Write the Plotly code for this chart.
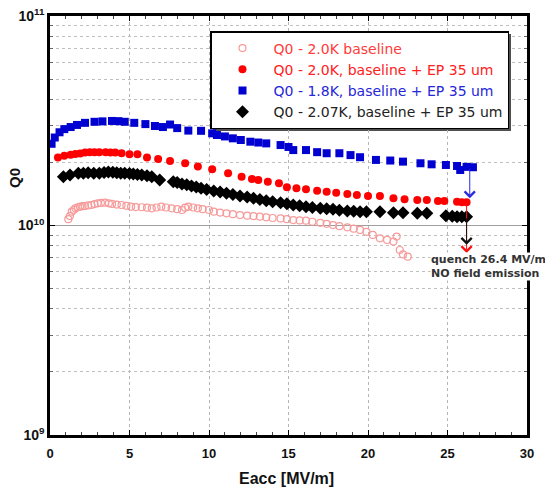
import math
import plotly.graph_objects as go

SCALE = 1e10

# Q0 - 2.0K baseline (open pink circles)
eacc_base_20 = [1.15, 1.25, 1.37, 1.5, 1.6, 1.75, 1.9, 2.05, 2.2, 2.4,
                2.6, 2.8, 3.0, 3.2, 3.46, 3.7, 3.9, 4.2, 4.5, 4.8,
                5.1, 5.4, 5.77, 6.1, 6.4, 6.7, 7.0, 7.3, 7.65, 8.0,
                8.3, 8.5, 8.7, 9.0, 9.3, 9.6, 10.0, 10.3, 10.7, 11.1,
                11.5, 11.95, 12.4, 12.8, 13.2, 13.6, 14.0, 14.5, 14.9, 15.3,
                15.7, 16.1, 16.5, 17.0, 17.4, 17.8, 18.2, 18.7, 19.1, 19.5,
                19.9, 20.3, 20.75, 21.2, 21.6, 21.8, 22.0, 22.2, 22.5]
q0_base_20 = [1.072, 1.109, 1.164, 1.189, 1.208, 1.222, 1.230, 1.236, 1.239, 1.247,
              1.253, 1.265, 1.276, 1.282, 1.285, 1.276, 1.268, 1.259, 1.253, 1.242,
              1.230, 1.225, 1.222, 1.216, 1.208, 1.219, 1.230, 1.219, 1.208, 1.197,
              1.186, 1.216, 1.230, 1.219, 1.208, 1.197, 1.186, 1.164, 1.153, 1.143,
              1.132, 1.122, 1.114, 1.109, 1.102, 1.094, 1.086, 1.081, 1.072, 1.062,
              1.057, 1.054, 1.042, 1.030, 1.019, 1.005, 0.993, 0.980, 0.966, 0.953,
              0.933, 0.902, 0.869, 0.853, 0.838, 0.885, 0.764, 0.728, 0.710]

# Q0 - 2.0K, baseline + EP 35 um (red dots)
eacc_ep_20 = [0.5, 0.9, 1.3, 1.6, 1.9, 2.2, 2.5, 2.8, 3.1, 3.5,
              3.8, 4.1, 4.5, 5.0, 5.5, 6.1, 6.8, 7.55, 8.5, 9.3,
              10.2, 11.2, 12.05, 12.7, 13.1, 13.7, 14.4, 14.9, 15.5, 16.1,
              16.8, 17.4, 18.0, 18.7, 19.3, 20.0, 20.75, 21.6, 22.3, 23.1,
              23.7, 24.4, 24.8, 25.6, 25.9, 26.2]
q0_ep_20 = [2.109, 2.153, 2.178, 2.193, 2.208, 2.228, 2.234, 2.234, 2.239, 2.234,
            2.228, 2.228, 2.213, 2.188, 2.188, 2.109, 2.075, 2.032, 1.982, 1.910,
            1.854, 1.774, 1.710, 1.667, 1.648, 1.618, 1.589, 1.521, 1.507, 1.489,
            1.466, 1.449, 1.435, 1.413, 1.400, 1.384, 1.384, 1.349, 1.334, 1.324,
            1.324, 1.309, 1.309, 1.300, 1.291, 1.291]

# Q0 - 1.8K, baseline + EP 35 um (blue squares)
eacc_ep_18 = [0.1, 0.3, 0.6, 0.9, 1.3, 1.7, 2.2, 2.8, 3.3, 3.9,
              4.3, 4.7, 5.3, 6.0, 6.6, 7.1, 7.55, 8.0, 8.7, 9.5,
              10.2, 10.5, 11.0, 11.5, 12.0, 12.6, 13.1, 13.6, 14.5, 15.0,
              15.3, 16.1, 16.8, 17.4, 18.2, 18.9, 19.5, 20.5, 21.4, 22.2,
              23.3, 24.0, 24.9, 25.6, 25.8, 26.2, 26.6]
q0_ep_18 = [2.455, 2.630, 2.786, 2.884, 2.951, 3.020, 3.090, 3.126, 3.141, 3.155,
            3.148, 3.126, 3.090, 3.048, 2.985, 2.951, 3.034, 2.917, 2.838, 2.831,
            2.754, 2.704, 2.661, 2.606, 2.559, 2.512, 2.489, 2.466, 2.421, 2.371,
            2.291, 2.291, 2.239, 2.213, 2.213, 2.168, 2.118, 2.056, 2.042, 2.018,
            1.982, 1.959, 1.945, 1.923, 1.841, 1.905, 1.897]

# Q0 - 2.07K, baseline + EP 35 um (black diamonds)
eacc_ep_207 = [0.84, 1.26, 1.78, 2.1, 2.4, 2.75, 3.1, 3.4, 3.67, 3.95,
               4.2, 4.45, 4.7, 5.0, 5.24, 5.5, 5.77, 6.1, 6.4, 6.9,
               7.75, 8.0, 8.3, 8.6, 8.9, 9.2, 9.5, 9.85, 10.3, 10.7,
               11.1, 11.5, 11.95, 12.4, 12.8, 13.2, 13.6, 14.0, 14.5, 14.9,
               15.3, 15.7, 16.1, 16.5, 17.0, 17.4, 17.8, 18.2, 18.7, 19.1,
               19.5, 19.9, 20.75, 21.6, 22.2, 23.1, 23.7, 24.9, 25.3, 25.6,
               25.9, 26.2]
q0_ep_207 = [1.710, 1.742, 1.774, 1.778, 1.786, 1.778, 1.774, 1.791, 1.799, 1.795,
             1.786, 1.778, 1.774, 1.770, 1.762, 1.754, 1.742, 1.726, 1.710, 1.648,
             1.618, 1.603, 1.578, 1.563, 1.545, 1.528, 1.507, 1.486, 1.462, 1.445,
             1.426, 1.406, 1.384, 1.368, 1.349, 1.330, 1.312, 1.300, 1.285, 1.271,
             1.253, 1.242, 1.230, 1.219, 1.208, 1.202, 1.194, 1.183, 1.172, 1.169,
             1.164, 1.164, 1.164, 1.151, 1.151, 1.143, 1.143, 1.112, 1.107, 1.102,
             1.102, 1.102]

# quench arrows: x position and arrow tip Q0 (x1e10) for 1.8K, 2.0K EP, 2.07K
quench_x = [26.4, 26.2, 26.2]
quench_tip = [1.35, 0.74, 0.81]
quench_colors = ["#2a2ae0", "#ff1010", "#111111"]

x_ticks = [0, 5, 10, 15, 20, 25, 30]
y_tickvals = [1e9, 1e10, 1e11]
y_ticktext = ["<b>10<sup>9</sup></b>", "<b>10<sup>10</sup></b>", "<b>10<sup>11</sup></b>"]

FONT = "Liberation Sans, Arial, sans-serif"
WIDE = "DejaVu Sans, sans-serif"

# plot-area geometry in pixels (for paper-coordinate placement of decorations)
W, H = 545, 487
ML, MR, MT, MB = 50, 18, 16, 52
PW, PH = W - ML - MR, H - MT - MB


def px_to_paper(xp, yp):
    return (xp - ML) / PW, (H - MB - yp) / PH


def sc(v):
    return [a * SCALE for a in v]


fig = go.Figure()
fig.add_trace(go.Scatter(
    x=eacc_base_20, y=sc(q0_base_20), mode="markers",
    name="<span style='color:#ff3b3b'>Q0 - 2.0K baseline</span>",
    marker=dict(symbol="circle-open", size=7, color="#f79a9a", line=dict(width=1.2)),
))
fig.add_trace(go.Scatter(
    x=eacc_ep_20, y=sc(q0_ep_20), mode="markers",
    name="<span style='color:#ff2020'>Q0 - 2.0K, baseline + EP 35 um</span>",
    marker=dict(symbol="circle", size=8, color="#ff0000"),
))
fig.add_trace(go.Scatter(
    x=eacc_ep_18, y=sc(q0_ep_18), mode="markers",
    name="<span style='color:#2626d9'>Q0 - 1.8K, baseline + EP 35 um</span>",
    marker=dict(symbol="square", size=8, color="#0000d0"),
))
fig.add_trace(go.Scatter(
    x=eacc_ep_207, y=sc(q0_ep_207), mode="markers",
    name="<span style='color:#222222'>Q0 - 2.07K, baseline + EP 35 um</span>",
    marker=dict(symbol="diamond", size=10, color="#000000"),
))

series_last = [q0_ep_18[-1], q0_ep_20[-1], q0_ep_207[-1]]
annotations = []
for qx, tip, start, col in zip(quench_x, quench_tip, series_last, quench_colors):
    annotations.append(dict(
        x=qx, y=math.log10(tip * SCALE), ax=qx, ay=math.log10(start * SCALE),
        xref="x", yref="y", axref="x", ayref="y", text="",
        showarrow=True, arrowhead=4, arrowsize=2, arrowwidth=1, arrowcolor=col,
    ))

annotations.append(dict(
    x=23.9, y=math.log10(0.745 * SCALE), xref="x", yref="y", xanchor="left", yanchor="top",
    text="<b>quench 26.4 MV/m<br>NO field emission</b>", showarrow=False, align="left",
    font=dict(family=WIDE, size=11, color="#333333"), bgcolor="white", borderpad=0,
))
qx_, qy_ = px_to_paper(14, 178)
annotations.append(dict(
    x=qx_, y=qy_, xref="paper", yref="paper", text="<b>Q0</b>", textangle=-90,
    xanchor="center", yanchor="middle",
    showarrow=False, font=dict(family=FONT, size=15, color="#111111"),
))
tx_, ty_ = px_to_paper(286, 478)
annotations.append(dict(
    x=tx_, y=ty_, xref="paper", yref="paper", text="<b>Eacc [MV/m]</b>",
    xanchor="center", yanchor="middle",
    showarrow=False, font=dict(family=FONT, size=16, color="#111111"),
))

# legend drop shadow (legend box spans about 210..508 x 31..128 px)
sx0, sy0 = px_to_paper(213, 34)
sx1, sy1 = px_to_paper(511, 131)
shapes = [dict(type="rect", xref="paper", yref="paper", x0=sx0, y0=sy1, x1=sx1, y1=sy0,
               fillcolor="#505050", line=dict(width=0), layer="between")]

lx_, ly_ = px_to_paper(210, 31)
fig.update_layout(
    width=W, height=H,
    margin=dict(l=ML, r=MR, t=MT, b=MB),
    paper_bgcolor="white", plot_bgcolor="white",
    font=dict(family=FONT, size=12, color="#111111"),
    showlegend=True,
    legend=dict(
        x=lx_, y=ly_, xanchor="left", yanchor="top",
        bgcolor="white", bordercolor="black", borderwidth=1.5,
        font=dict(family=WIDE, size=14), itemwidth=52,
        tracegroupgap=0,
    ),
    annotations=annotations,
    shapes=shapes,
)
fig.update_xaxes(
    range=[0, 30], tickvals=x_ticks, ticks="inside", ticklen=5, tickcolor="black",
    showline=True, linewidth=2.5, linecolor="black", mirror="ticks", automargin=False,
    showgrid=True, gridcolor="#b5b5b5", griddash="dot", gridwidth=1, zeroline=False,
    tickfont=dict(family=FONT, size=13, weight="bold"), ticklabelstandoff=5,
    minor=dict(dtick=1, ticks="inside", ticklen=3, tickcolor="#444", showgrid=False),
)
fig.update_yaxes(
    type="log", range=[9, 11], tickvals=y_tickvals, ticktext=y_ticktext,
    ticks="inside", ticklen=5, tickcolor="black", automargin=False,
    showline=True, linewidth=2.5, linecolor="black", mirror="ticks",
    showgrid=True, gridcolor="#a0a0a0", gridwidth=1.2, zeroline=False,
    tickfont=dict(family=FONT, size=14),
    minor=dict(dtick="D1", ticks="inside", ticklen=3, tickcolor="#666",
               showgrid=True, gridcolor="#c0c0c0", griddash="dot", gridwidth=1),
)

fig.write_html("out.html")
